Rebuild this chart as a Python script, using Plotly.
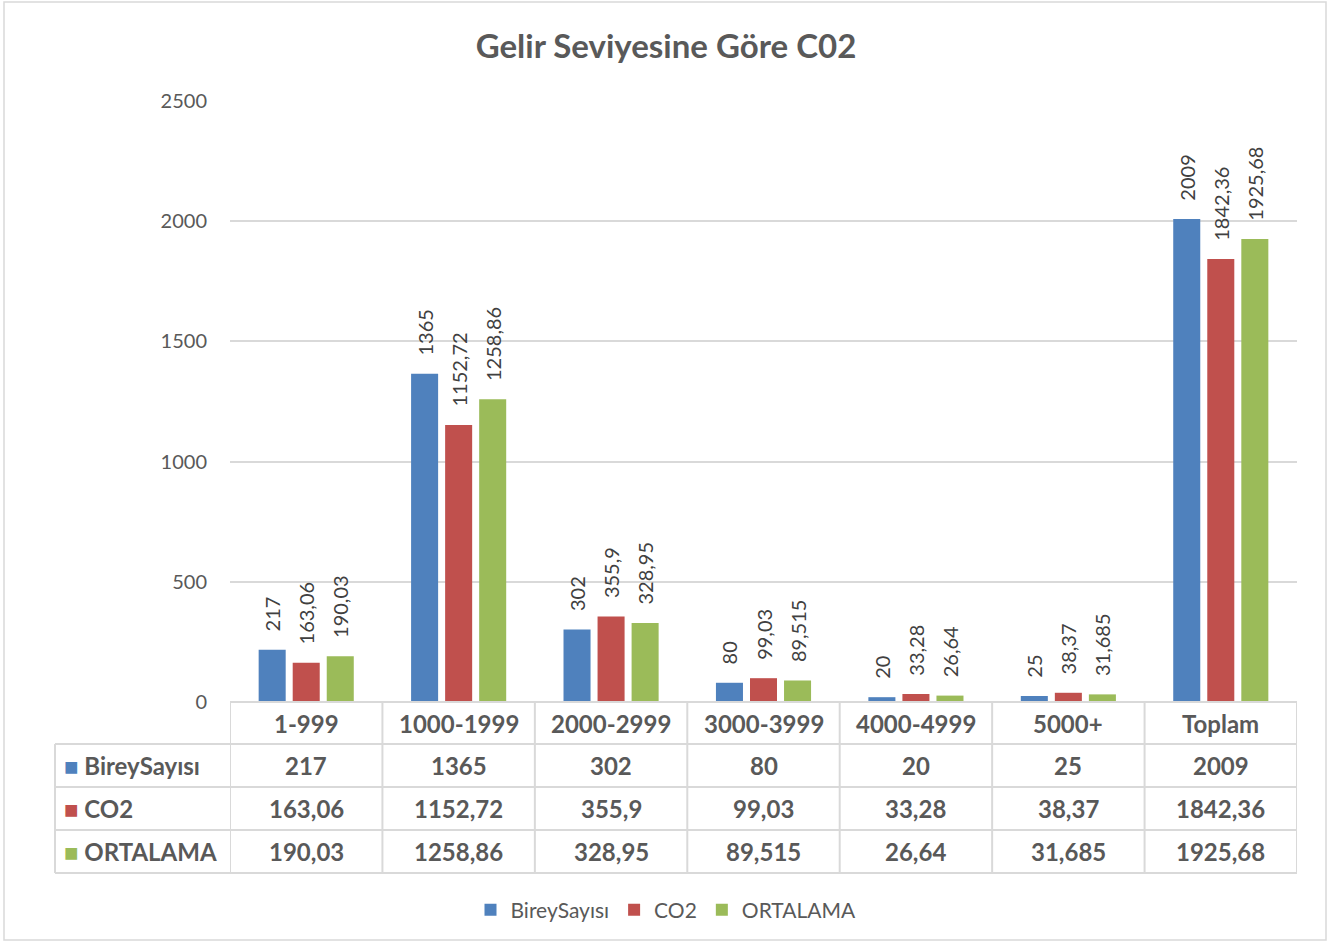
import plotly.graph_objects as go

categories = ["1-999", "1000-1999", "2000-2999", "3000-3999", "4000-4999", "5000+", "Toplam"]
birey_sayisi = [217, 1365, 302, 80, 20, 25, 2009]
co2 = [163.06, 1152.72, 355.9, 99.03, 33.28, 38.37, 1842.36]
ortalama = [190.03, 1258.86, 328.95, 89.515, 26.64, 31.685, 1925.68]
series_names = ["BireySayısı", "CO2", "ORTALAMA"]
series_values = [birey_sayisi, co2, ortalama]
colors = ["#4F81BD", "#C0504D", "#9BBB59"]
y_ticks = [0, 500, 1000, 1500, 2000, 2500]
title_text = "Gelir Seviyesine Göre C02"

FONT = "Lato"
W, H = 1332, 945
L, R, T, B = 230, 1297, 101, 702


def fmt(v):
    return f"{v:g}".replace(".", ",")


def px2x(px):
    return (px - L) / (R - L)


def px2y(py):
    return (B - py) / (B - T)


fig = go.Figure()
for name, vals, col in zip(series_names, series_values, colors):
    fig.add_trace(go.Bar(
        x=categories, y=vals, name=name,
        marker=dict(color=col, line=dict(width=0)),
        text=["\u00a0\u00a0\u00a0" + fmt(v) for v in vals],
        textposition="outside", textangle=-90,
        textfont=dict(family=FONT, size=20, color="#404040"),
        constraintext="none", cliponaxis=False,
    ))

grid = "#d9d9d9"
shapes = []
shapes.append(dict(type="rect", xref="paper", yref="paper",
                   x0=px2x(4), x1=px2x(1326), y0=px2y(940), y1=px2y(2),
                   line=dict(color=grid, width=1.5), layer="below"))
shapes.append(dict(type="line", xref="paper", yref="paper", x0=px2x(230), x1=px2x(1297),
                   y0=px2y(702), y1=px2y(702), line=dict(color=grid, width=2)))
for py in [744, 787, 830, 873]:
    shapes.append(dict(type="line", xref="paper", yref="paper", x0=px2x(55), x1=px2x(1297),
                       y0=px2y(py), y1=px2y(py), line=dict(color=grid, width=2)))
for i in range(len(categories) + 1):
    shapes.append(dict(type="line", xref="x", yref="paper", x0=i - 0.5, x1=i - 0.5,
                       y0=px2y(702), y1=px2y(873), line=dict(color=grid, width=2)))
shapes.append(dict(type="line", xref="paper", yref="paper", x0=px2x(55), x1=px2x(55),
                   y0=px2y(744), y1=px2y(873), line=dict(color=grid, width=2)))

annotations = []
tcol = "#595959"
tfont = dict(family=FONT, size=24, color=tcol, weight="bold")
for i, c in enumerate(categories):
    annotations.append(dict(x=i, y=px2y(723), xref="x", yref="paper", text=c, showarrow=False,
                            xanchor="center", yanchor="middle", font=tfont))
row_centers = [765.5, 808.5, 851.5]
for r, (name, vals, col) in enumerate(zip(series_names, series_values, colors)):
    annotations.append(dict(x=px2x(62), y=px2y(row_centers[r]), xref="paper", yref="paper",
                            xanchor="left", yanchor="middle", showarrow=False,
                            text=f'<span style="color:{col}">■</span> {name}', font=tfont))
    for i, v in enumerate(vals):
        annotations.append(dict(x=i, y=px2y(row_centers[r]), xref="x", yref="paper",
                                xanchor="center", yanchor="middle",
                                text=fmt(v), showarrow=False, font=tfont))

fig.update_layout(
    width=W, height=H,
    margin=dict(l=L, r=W - R, t=T, b=H - B, pad=0),
    paper_bgcolor="white", plot_bgcolor="white",
    title=dict(text=title_text, x=0.5, xref="container", xanchor="center",
               y=1 - 46 / H, yref="container", yanchor="middle",
               font=dict(family=FONT, size=33, color="#595959", weight="bold")),
    barmode="group", bargap=0.33, bargroupgap=0.206,
    xaxis=dict(type="category", range=[-0.5, len(categories) - 0.5], showticklabels=False,
               showgrid=False, showline=False, zeroline=False, ticks=""),
    yaxis=dict(range=[0, 2500], tickvals=y_ticks, showgrid=True, gridcolor=grid, gridwidth=1.5,
               zeroline=False, showline=False, ticks="", ticklabelstandoff=22,
               tickfont=dict(family=FONT, size=20, color="#595959")),
    legend=dict(orientation="h", xref="container", yref="container", x=0.5, xanchor="center",
                y=1 - 910 / H, yanchor="middle", font=dict(family=FONT, size=21, color="#595959"),
                itemwidth=30, traceorder="normal"),
    shapes=shapes, annotations=annotations,
)

fig.write_html("out.html", config={"displayModeBar": False},
               post_script="document.body.style.margin='0';document.body.style.overflow='hidden';")
